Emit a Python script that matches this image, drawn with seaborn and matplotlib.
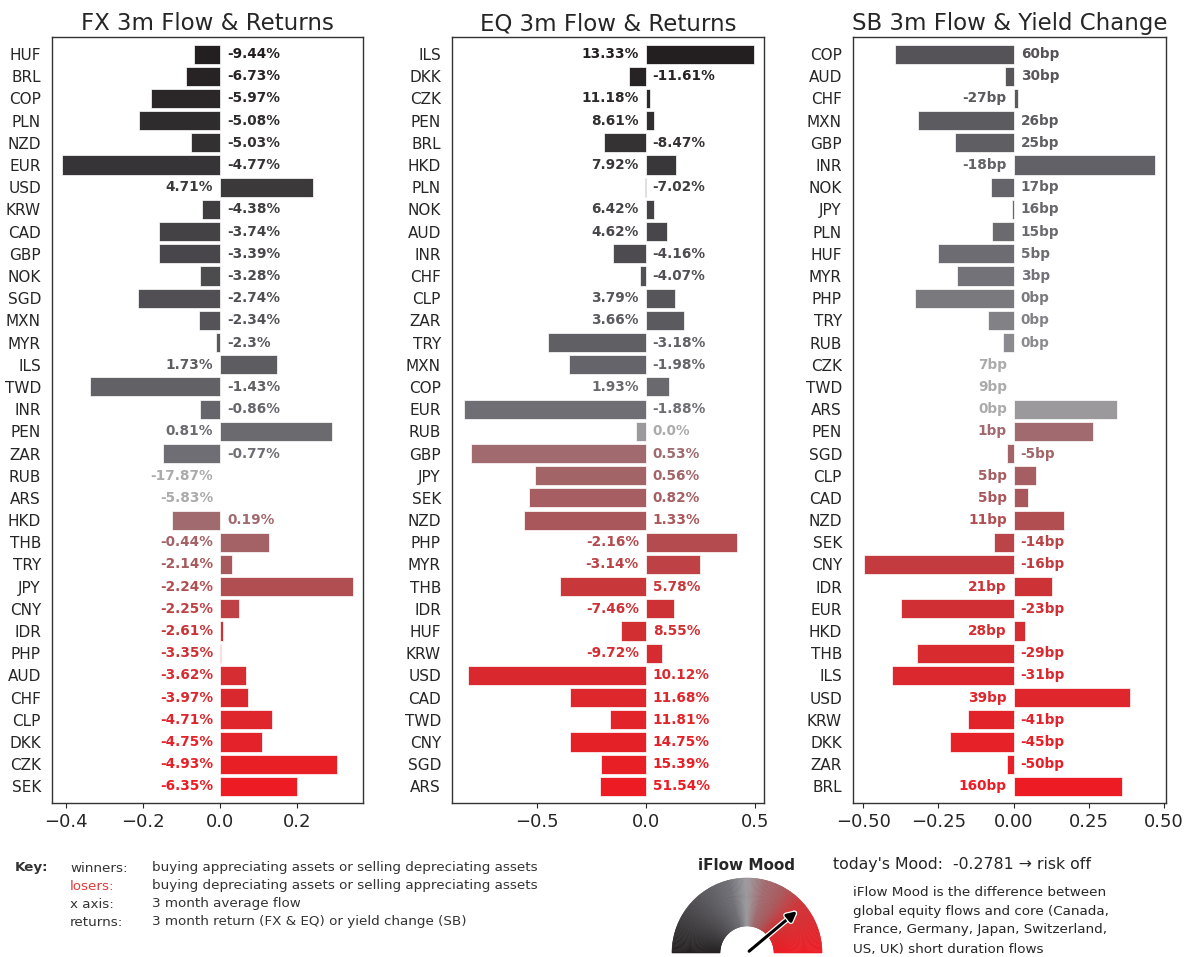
import numpy as np
import pandas as pd
import seaborn as sns
import matplotlib.pyplot as plt
import matplotlib.patheffects as pe
from matplotlib.colors import LinearSegmentedColormap
from matplotlib.patches import Wedge
from matplotlib.ticker import MultipleLocator

# --- data ---
fx_ccy = ["HUF", "BRL", "COP", "PLN", "NZD", "EUR", "USD", "KRW", "CAD", "GBP", "NOK", "SGD",
          "MXN", "MYR", "ILS", "TWD", "INR", "PEN", "ZAR", "RUB", "ARS", "HKD", "THB", "TRY",
          "JPY", "CNY", "IDR", "PHP", "AUD", "CHF", "CLP", "DKK", "CZK", "SEK"]
fx_flow = [-0.067, -0.088, -0.18, -0.21, -0.075, -0.41, 0.241, -0.047, -0.159, -0.159, -0.051,
           -0.213, -0.054, -0.011, 0.147, -0.337, -0.051, 0.29, -0.148, 0.0, 0.0, -0.125, 0.127,
           0.03, 0.343, 0.049, 0.008, 0.002, 0.066, 0.073, 0.134, 0.108, 0.302, 0.199]
fx_ret = [-9.44, -6.73, -5.97, -5.08, -5.03, -4.77, 4.71, -4.38, -3.74, -3.39, -3.28, -2.74,
          -2.34, -2.3, 1.73, -1.43, -0.86, 0.81, -0.77, -17.87, -5.83, 0.19, -0.44, -2.14,
          -2.24, -2.25, -2.61, -3.35, -3.62, -3.97, -4.71, -4.75, -4.93, -6.35]

eq_ccy = ["ILS", "DKK", "CZK", "PEN", "BRL", "HKD", "PLN", "NOK", "AUD", "INR", "CHF", "CLP",
          "ZAR", "TRY", "MXN", "COP", "EUR", "RUB", "GBP", "JPY", "SEK", "NZD", "PHP", "MYR",
          "THB", "IDR", "HUF", "KRW", "USD", "CAD", "TWD", "CNY", "SGD", "ARS"]
eq_flow = [0.496, -0.078, 0.019, 0.039, -0.193, 0.14, -0.003, 0.039, 0.098, -0.151, -0.025,
           0.134, 0.175, -0.449, -0.353, 0.105, -0.835, -0.043, -0.8, -0.507, -0.537, -0.557,
           0.42, 0.248, -0.394, 0.129, -0.115, 0.074, -0.816, -0.347, -0.162, -0.347, -0.205,
           -0.211]
eq_ret = [13.33, -11.61, 11.18, 8.61, -8.47, 7.92, -7.02, 6.42, 4.62, -4.16, -4.07, 3.79, 3.66,
          -3.18, -1.98, 1.93, -1.88, 0.0, 0.53, 0.56, 0.82, 1.33, -2.16, -3.14, 5.78, -7.46,
          8.55, -9.72, 10.12, 11.68, 11.81, 14.75, 15.39, 51.54]

sb_ccy = ["COP", "AUD", "CHF", "MXN", "GBP", "INR", "NOK", "JPY", "PLN", "HUF", "MYR", "PHP",
          "TRY", "RUB", "CZK", "TWD", "ARS", "PEN", "SGD", "CLP", "CAD", "NZD", "SEK", "CNY",
          "IDR", "EUR", "HKD", "THB", "ILS", "USD", "KRW", "DKK", "ZAR", "BRL"]
sb_flow = [-0.395, -0.028, 0.015, -0.317, -0.196, 0.469, -0.075, -0.005, -0.071, -0.252, -0.187,
           -0.329, -0.087, -0.035, 0.0, 0.0, 0.343, 0.265, -0.023, 0.075, 0.049, 0.166, -0.066,
           -0.499, 0.127, -0.373, 0.037, -0.322, -0.403, 0.386, -0.153, -0.213, -0.023, 0.361]
sb_bp = [60, 30, -27, 26, 25, -18, 17, 16, 15, 5, 3, 0, 0, 0, 7, 9, 0, 1, -5, 5, 5, 11, -14,
         -16, 21, -23, 28, -29, -31, 39, -41, -45, -50, 160]

# winners / flat rows at the top of each sorted panel, the rest are losers
fx_split = (19, 2)
eq_split = (17, 1)
sb_split = (14, 3)

mood = -0.2781

# --- style ---
sns.set_style("ticks")
plt.rcParams['font.family'] = ['DejaVu Sans']

mood_cmap = LinearSegmentedColormap.from_list("iflow", [
    (0.0, "#231f20"), (0.42, "#6e6e74"), (0.5, "#9c9a9e"), (0.58, "#a06a6e"),
    (0.66, "#a8585c"), (0.76, "#cc3336"), (1.0, "#ed1c24")])

W, H = 1193, 957
fig = plt.figure(figsize=(W / 100, H / 100), dpi=100)


def row_colours(n, split, win_range):
    n_win, n_flat = split
    n_lose = n - n_win - n_flat
    t = list(np.linspace(win_range[0], win_range[1], n_win))
    t += [0.5] * n_flat
    t += list(np.linspace(0.58, 1.0, n_lose))
    return [mood_cmap(v) for v in t]


def panel(rect, ccy, flow, labels, split, win_range, title, xlim, step):
    ax = fig.add_axes(rect)
    colours = row_colours(len(ccy), split, win_range)
    df = pd.DataFrame({"ccy": ccy, "flow": flow})
    sns.barplot(data=df, x="flow", y="ccy", hue="ccy", orient="h",
                palette=dict(zip(ccy, colours)), legend=False, dodge=False,
                saturation=1, width=0.86, edgecolor="white", linewidth=0.5, ax=ax)
    for i, (f, lab) in enumerate(zip(flow, labels)):
        off, ha = (-5, "right") if f >= 0 else (5, "left")
        text_col = "#ababab" if split[0] <= i < split[0] + split[1] else colours[i]
        ax.annotate(lab, (0, i), xytext=(off, 0), textcoords="offset points",
                    ha=ha, va="center", fontsize=9.8, fontweight="bold",
                    color=text_col)
    ax.set_xlim(*xlim)
    ax.set_ylim(len(ccy) - 0.25, -0.77)
    ax.xaxis.set_major_locator(MultipleLocator(step))
    ax.set_xlabel("")
    ax.set_ylabel("")
    ax.set_title(title, fontsize=16.5, pad=5, color="#262626")
    ax.tick_params(axis="y", length=0, pad=8, labelsize=11)
    ax.tick_params(axis="x", labelsize=13, pad=4)
    for s in ax.spines.values():
        s.set_visible(True)
        s.set_color("#333333")
        s.set_linewidth(1)
    return ax


bottom = 1 - 803 / H
height = (803 - 37) / H
panel([52 / W, bottom, 311 / W, height], fx_ccy, fx_flow, [f"{v}%" for v in fx_ret],
      fx_split, (0.0, 0.42), "FX 3m Flow & Returns", (-0.435, 0.37), 0.2)
panel([452 / W, bottom, 312 / W, height], eq_ccy, eq_flow, [f"{v}%" for v in eq_ret],
      eq_split, (0.0, 0.42), "EQ 3m Flow & Returns", (-0.888, 0.542), 0.5)
panel([853 / W, bottom, 313 / W, height], sb_ccy, sb_flow, [f"{v}bp" for v in sb_bp],
      sb_split, (0.28, 0.47), "SB 3m Flow & Yield Change", (-0.534, 0.506), 0.25)

# --- key text ---
def ftext(x, y, s, **kw):
    fig.text(x / W, 1 - y / H, s, va="center", **kw)

ftext(15, 868, "Key:", fontsize=9.7, fontweight="bold", color="#333333")
key_rows = [("winners:", "buying appreciating assets or selling depreciating assets", "#333333"),
            ("losers:", "buying depreciating assets or selling appreciating assets", "#e03a3a"),
            ("x axis:", "3 month average flow", "#333333"),
            ("returns:", "3 month return (FX & EQ) or yield change (SB)", "#333333")]
for k, (name, desc, col) in enumerate(key_rows):
    ftext(70, 868 + 18 * k, name, fontsize=9.7, color=col)
    ftext(152, 868 + 18 * k, desc, fontsize=9.7, color="#333333")

# --- iFlow mood gauge ---
gx = fig.add_axes([0, 0, 1, 1], zorder=5)
gx.set_xlim(0, W)
gx.set_ylim(0, H)
gx.axis("off")
cx, cy, r_out, r_in = 747, H - 953, 75, 27
angles = np.linspace(180, 0, 181)
for a0, a1 in zip(angles[:-1], angles[1:]):
    col = mood_cmap(1 - (a0 + a1) / 360)
    gx.add_patch(Wedge((cx, cy), r_out, a1, a0, width=r_out - r_in,
                       facecolor=col, edgecolor=col, linewidth=0.4))
ang = np.radians(90 + mood * 180)
tip = (cx + 68 * np.cos(ang), cy + 68 * np.sin(ang))
gx.annotate("", xy=tip, xytext=(cx, cy),
            arrowprops=dict(arrowstyle="-|>", color="black", lw=2.2, mutation_scale=14,
                            path_effects=[pe.Stroke(linewidth=4, foreground="white"),
                                          pe.Normal()]))
ftext(746, 865, "iFlow Mood", fontsize=11, fontweight="bold", color="#262626", ha="center")

ftext(833, 865, f"today's Mood:  {mood} \u2192 risk off", fontsize=11.3, color="#262626")
mood_note = ["iFlow Mood is the difference between",
             "global equity flows and core (Canada,",
             "France, Germany, Japan, Switzerland,",
             "US, UK) short duration flows"]
for k, line in enumerate(mood_note):
    ftext(853, 892 + 19 * k, line, fontsize=9.7, color="#262626")

fig.savefig("out.png", dpi=100)
